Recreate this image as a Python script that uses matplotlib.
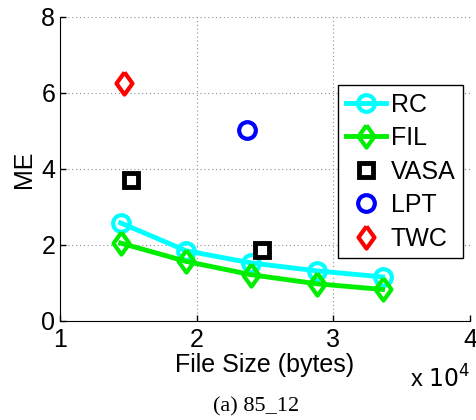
import matplotlib.pyplot as plt
import numpy as np

plt.rcParams['font.family'] = ['Liberation Sans', 'DejaVu Sans']

# file sizes (x 10^4 bytes) and mean error
rc_x = [1.444, 1.922, 2.395, 2.878, 3.360]
rc_y = [2.58, 1.85, 1.53, 1.32, 1.16]
fil_x = [1.444, 1.922, 2.395, 2.878, 3.360]
fil_y = [2.05, 1.57, 1.22, 0.98, 0.83]
vasa_x = [1.517, 2.478]
vasa_y = [3.72, 1.88]
lpt_x = [2.366]
lpt_y = [5.02]
twc_x = [1.468]
twc_y = [6.26]

diamond = [(0, 1), (0.72, 0), (0, -1), (-0.72, 0), (0, 1)]

fig = plt.figure(figsize=(4.77, 4.2), dpi=100)
ax = fig.add_axes([60/477, 1 - 321/420, 410/477, 304/420])

ax.plot(rc_x, rc_y, '-o', color='cyan', lw=3.5, ms=12, mew=3, mfc='none', label='RC')
ax.plot(fil_x, fil_y, '-', marker=diamond, color='#00ee00', lw=3.5, ms=16, mew=3, mfc='none', label='FIL')
ax.plot(vasa_x, vasa_y, 's', color='black', ms=10, mew=3.5, mfc='none', label='VASA')
ax.plot(lpt_x, lpt_y, 'o', color='blue', ms=12, mew=3, mfc='none', label='LPT')
ax.plot(twc_x, twc_y, ' ', marker=diamond, color='red', ms=16, mew=3, mfc='none', label='TWC')

ax.set_xlim(1, 4)
ax.set_ylim(0, 8)
ax.set_xticks([1, 2, 3, 4])
ax.set_yticks([0, 2, 4, 6, 8])
ax.grid(True, linestyle=(0, (1, 2.5)), color='#909090', lw=0.8)
for s in ['top', 'right']:
    ax.spines[s].set_visible(False)
ax.tick_params(direction='in', length=4, labelsize=18, width=1)
ax.tick_params(axis='x', pad=5)
ax.set_xlabel('File Size (bytes)', fontsize=18, labelpad=1)
ax.set_ylabel('ME', fontsize=18, labelpad=4)

ax.text(1.0, -0.145, r'x $10^4$', transform=ax.transAxes, ha='right', va='top', fontsize=17)

leg = ax.legend(loc='upper right', bbox_to_anchor=(0.983, 0.776), fontsize=18,
                fancybox=False, framealpha=1, edgecolor='black',
                handlelength=1.6, handletextpad=0.2, borderpad=0.3, labelspacing=0.38,
                borderaxespad=0)
leg.get_frame().set_linewidth(1)

fig.text(256/477, 1 - 407/420, '(a) 85_12', ha='center', va='center',
         fontsize=16, family='Liberation Serif')

fig.savefig('out.png', dpi=100)
